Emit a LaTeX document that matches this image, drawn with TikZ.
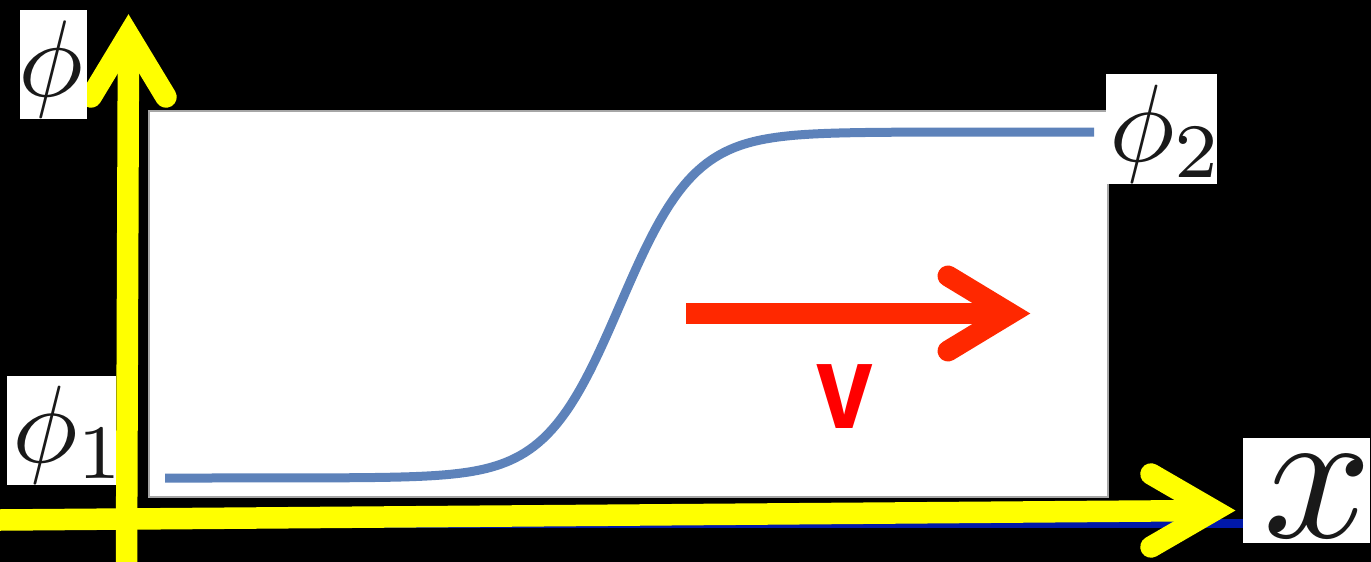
\documentclass[tikz,border=0pt]{standalone}
\usepackage{fontspec}
\newfontfamily\vfont{Liberation Sans}
\definecolor{axyellow}{RGB}{255,255,0}
\definecolor{arrred}{RGB}{255,40,0}
\definecolor{vred}{RGB}{255,0,0}
\definecolor{curveblue}{RGB}{93,130,186}
\definecolor{lineblue}{RGB}{0,24,168}
\begin{document}
\begin{tikzpicture}[x=1pt,y=-1pt,
  plotbox/.style={draw=gray!70, line width=1.5pt, fill=white, inner sep=0, rectangle},
  wbox/.style={fill=white, draw=none, inner sep=0, rectangle},
  lbl/.style={inner sep=0, text=black!90},
  curvestyle/.style={draw=curveblue, line width=9pt},
  yshaft/.style={draw=axyellow, line width=21.5pt},
  yhead/.style={draw=axyellow, line width=21.5pt, line cap=round, line join=miter},
  rshaft/.style={draw=arrred, line width=21pt},
  rhead/.style={draw=arrred, line width=21pt, line cap=round, line join=miter}]
\useasboundingbox (0,0) rectangle (1371,562);
\fill[black] (0,0) rectangle (1371,562);
% plot area
\node[plotbox, minimum width=959pt, minimum height=386pt] (plot) at (628.5,304) {};
% kink curve
\draw[curvestyle] plot[domain=165:1094, samples=200] (\x, {305+173*tanh((620-\x)/75)});
% velocity arrow
\coordinate (rs) at (686,313.5);
\coordinate (rt) at (1010,313.5);
\coordinate (ru) at (948,276);
\coordinate (rl) at (948,351);
\draw[rshaft] (rs) -- (rt);
\draw[rhead] (ru) -- (rt) -- (rl);
\node[anchor=base, text=vred, xscale=10.2, yscale=12.1, inner sep=0] (vlbl) at (845,428) {\vfont\bfseries v};
% blue base line
\coordinate (bl0) at (300,523.5);
\coordinate (bl1) at (1243,523.5);
\draw[draw=lineblue, line width=9pt] (bl0) -- (bl1);
% horizontal axis
\coordinate (hx0) at (0,520);
\coordinate (hxt) at (1214,510.5);
\coordinate (hxu) at (1151,474);
\coordinate (hxl) at (1151,547);
\draw[yshaft] (hx0) -- (hxt);
\draw[yhead] (hxu) -- (hxt) -- (hxl);
% vertical axis
\coordinate (vy0) at (126.5,562);
\coordinate (vyt) at (128.5,35);
\coordinate (vyl) at (91,97);
\coordinate (vyr) at (166,97);
\draw[yshaft] (vy0) -- (vyt);
\draw[yhead] (vyl) -- (vyt) -- (vyr);
% labels
\node[wbox, minimum width=67pt, minimum height=109pt] (phibox) at (53.5,64.5) {};
\node[lbl, scale=10.9, anchor=base west] (philbl) at (16,96) {$\phi$};
\node[wbox, minimum width=109pt, minimum height=109pt] (phi1box) at (61.5,430.5) {};
\node[lbl, scale=11, anchor=base west] (phi1lbl) at (10,462) {$\phi_1$};
\node[wbox, minimum width=111pt, minimum height=110pt] (phi2box) at (1161.5,129) {};
\node[lbl, scale=11, anchor=base west] (phi2lbl) at (1107,161) {$\phi_2$};
\node[wbox, minimum width=127pt, minimum height=105pt] (xbox) at (1306.5,490.5) {};
\node[lbl, scale=19, anchor=base west] (xlbl) at (1260,537) {$x$};
\end{tikzpicture}
\end{document}
